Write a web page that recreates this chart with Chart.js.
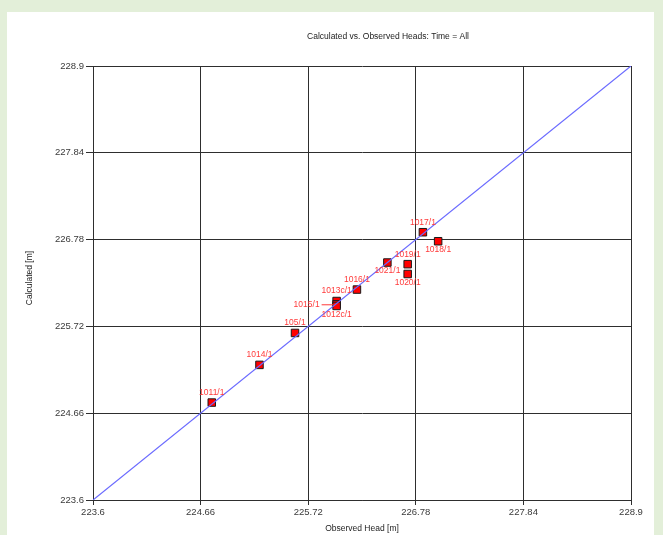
<!DOCTYPE html>
<html>
<head>
<meta charset="utf-8">
<script src="https://cdn.jsdelivr.net/npm/chart.js@4"></script>
<style>
  html, body { margin: 0; padding: 0; }
  body { background: #e3efd9; width: 663px; height: 535px; overflow: hidden; position: relative; }
  #panel { position: absolute; left: 7px; top: 12px; width: 647px; height: 523px; background: #fff; }
  #chart { display: block; }
</style>
</head>
<body>
<div id="panel"><canvas id="chart" width="647" height="523"></canvas></div>
<script>
const wellNames = ['1011/1', '1014/1', '105/1', '1013c/1', '1015/1', '1012c/1', '1016/1', '1021/1', '1019/1', '1020/1', '1017/1', '1018/1'];
const observed = [224.77, 225.24, 225.59, 226.00, 226.00, 226.00, 226.20, 226.50, 226.70, 226.70, 226.85, 227.00];
const calculated = [224.79, 225.25, 225.64, 226.03, 225.99, 225.97, 226.17, 226.50, 226.48, 226.36, 226.87, 226.76];
const labelSide = ['above', 'above', 'above', 'above', 'left', 'below', 'above', 'below', 'above', 'below', 'above', 'below'];
const tickValues = [223.6, 224.66, 225.72, 226.78, 227.84, 228.9];
const axisMin = 223.6;
const axisMax = 228.9;

const font = 'Liberation Sans, Arial, sans-serif';

const textPlugin = {
  id: 'texts',
  afterDatasetsDraw(chart) {
    const ctx = chart.ctx;
    const meta = chart.getDatasetMeta(1);
    ctx.save();
    ctx.font = '8.5px ' + font;
    ctx.fillStyle = '#ff3a3a';
    ctx.strokeStyle = '#ff3a3a';
    ctx.lineWidth = 1;
    meta.data.forEach((pt, i) => {
      const side = labelSide[i];
      if (side === 'left') {
        ctx.textAlign = 'right';
        ctx.textBaseline = 'middle';
        ctx.fillText(wellNames[i], pt.x - 17, pt.y);
        ctx.beginPath();
        ctx.moveTo(pt.x - 15, pt.y + 0.5);
        ctx.lineTo(pt.x - 3, pt.y + 0.5);
        ctx.stroke();
      } else {
        ctx.textAlign = 'center';
        ctx.textBaseline = 'middle';
        ctx.fillText(wellNames[i], pt.x, side === 'above' ? pt.y - 10 : pt.y + 8.5);
      }
    });
    ctx.restore();
  },
  afterDraw(chart) {
    const ctx = chart.ctx;
    const area = chart.chartArea;
    ctx.save();
    ctx.fillStyle = '#222';
    ctx.font = '8.5px ' + font;
    ctx.textAlign = 'center';
    ctx.textBaseline = 'middle';
    ctx.fillText('Calculated vs. Observed Heads: Time = All', 381, 25);
    ctx.fillText('Observed Head [m]', (area.left + area.right) / 2, 517);
    ctx.translate(23, 266);
    ctx.rotate(-Math.PI / 2);
    ctx.fillText('Calculated [m]', 0, 0);
    ctx.restore();
  }
};

function axisOptions(isX) {
  return {
    type: 'linear',
    min: axisMin,
    max: axisMax,
    afterBuildTicks(s) { s.ticks = tickValues.map(v => ({ value: v })); },
    afterFit(s) { if (isX) s.height = 35; else s.width = 86; },
    grid: { color: '#2e2e2e', lineWidth: 1, drawTicks: true, tickLength: isX ? 5 : 7, tickColor: '#2e2e2e' },
    border: { display: true, color: '#2e2e2e', width: 1 },
    ticks: {
      autoSkip: false,
      maxRotation: 0,
      padding: 2,
      color: '#3a3a3a',
      font: { family: font, size: 9.5 },
      callback: v => String(+v.toFixed(2))
    }
  };
}

new Chart(document.getElementById('chart'), {
  type: 'scatter',
  data: {
    datasets: [
      {
        type: 'line',
        data: [{ x: axisMin, y: axisMin }, { x: axisMax, y: axisMax }],
        borderColor: '#6a6aff',
        borderWidth: 1.2,
        pointRadius: 0
      },
      {
        data: observed.map((x, i) => ({ x, y: calculated[i] })),
        pointStyle: 'rect',
        pointRadius: 5.3,
        backgroundColor: '#ff0000',
        borderColor: '#1a1a1a',
        borderWidth: 1
      }
    ]
  },
  options: {
    responsive: false,
    animation: false,
    layout: { padding: { top: 54, right: 23, left: 0, bottom: 0 } },
    plugins: { legend: { display: false }, tooltip: { enabled: false }, title: { display: false } },
    scales: { x: axisOptions(true), y: axisOptions(false) }
  },
  plugins: [textPlugin]
});
</script>
</body>
</html>
